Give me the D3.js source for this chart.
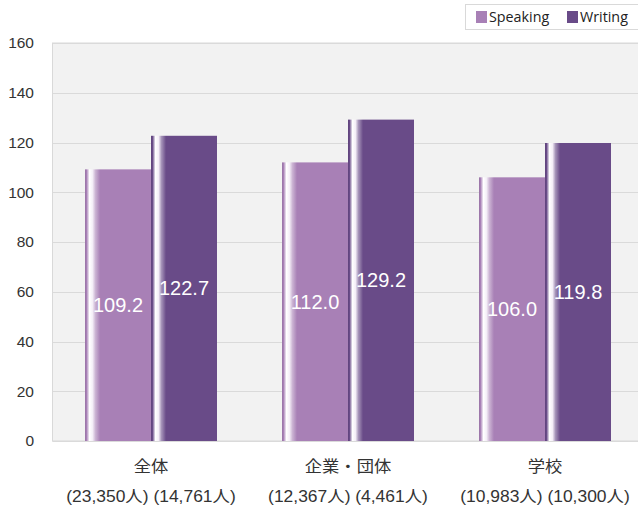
<!DOCTYPE html>
<html><head><meta charset="utf-8">
<script src="https://cdn.jsdelivr.net/npm/d3@7"></script>
<style>body{margin:0;background:#fff}svg{display:block}</style>
</head><body>
<script>
const categories = ["全体", "企業・団体", "学校"];
const subLabels = ["(23,350人) (14,761人)", "(12,367人) (4,461人)", "(10,983人) (10,300人)"];
const seriesNames = ["Speaking", "Writing"];
const speaking = [109.2, 112.0, 106.0];
const writing = [122.7, 129.2, 119.8];
const yTicks = [0, 20, 40, 60, 80, 100, 120, 140, 160];
const colors = ["#a880b6", "#694b88"];

const W = 638, H = 507;
const m = {left: 52.5, top: 43, right: 643.5, bottom: 441};
const svg = d3.select("body").append("svg").attr("width", W).attr("height", H);

const x = d3.scaleBand().domain(categories).range([m.left, m.right]).paddingInner(0).paddingOuter(0);
const xs = d3.scaleBand().domain(seriesNames).range([0, 132]);
const y = d3.scaleLinear().domain([0, 160]).range([m.bottom, m.top]);

const defs = svg.append("defs");
colors.forEach((c, i) => {
  const g = defs.append("linearGradient").attr("id", "g" + i).attr("x1", "0").attr("x2", "1").attr("y1", "0").attr("y2", "0");
  const w = 66;
  const stops = [[0, d3.color(c).darker(0.3)], [1.5/w, c], [4.5/w, "#ffffff"], [7.5/w, "#f4eef7"], [10.5/w, d3.interpolateRgb("#ffffff", c)(0.6)], [15/w, c], [1, c]];
  stops.forEach(s => g.append("stop").attr("offset", s[0]).attr("stop-color", s[1]));
});

svg.append("rect").attr("x", m.left).attr("y", m.top).attr("width", m.right - m.left).attr("height", m.bottom - m.top)
  .attr("fill", "#f2f2f2").attr("stroke", "#d9d9d9").attr("stroke-width", 1);

svg.append("g").selectAll("line").data(yTicks).join("line")
  .attr("x1", m.left).attr("x2", m.right)
  .attr("y1", d => Math.round(y(d)) + 0.5).attr("y2", d => Math.round(y(d)) + 0.5)
  .attr("stroke", "#dadada").attr("stroke-width", 1.2);

svg.append("g").selectAll("text").data(yTicks).join("text")
  .attr("x", 34).attr("y", d => y(d)).attr("dy", "0.35em").attr("text-anchor", "end")
  .attr("font-family", "Liberation Sans, Arial, sans-serif").attr("font-size", 15.5).attr("fill", "#333")
  .text(d => d);

const data = categories.map((c, i) => ({cat: c, vals: [speaking[i], writing[i]]}));
const off = (x.bandwidth() - 132) / 2;
const groups = svg.append("g").selectAll("g").data(data).join("g")
  .attr("transform", d => `translate(${x(d.cat) + off},0)`);

groups.selectAll("rect").data(d => d.vals.map((v, i) => ({v, i}))).join("rect")
  .attr("x", d => xs(seriesNames[d.i])).attr("width", xs.bandwidth())
  .attr("y", d => y(d.v)).attr("height", d => y(0) - y(d.v))
  .attr("fill", d => `url(#g${d.i})`);

groups.selectAll("text.v").data(d => d.vals.map((v, i) => ({v, i}))).join("text")
  .attr("class", "v")
  .attr("x", d => xs(seriesNames[d.i]) + xs.bandwidth() / 2)
  .attr("y", d => (y(d.v) + y(0)) / 2).attr("dy", "0.35em").attr("text-anchor", "middle")
  .attr("font-family", "Liberation Sans, Arial, sans-serif").attr("font-size", 20).attr("fill", "#fff")
  .text(d => d.v.toFixed(1));

const xl = svg.append("g");
xl.selectAll("text.c").data(categories).join("text").attr("class", "c")
  .attr("transform", d => `translate(${x(d) + x.bandwidth() / 2},472) scale(1.08,1)`).attr("text-anchor", "middle")
  .attr("font-family", "Noto Sans CJK JP, sans-serif").attr("font-size", 16).attr("fill", "#333")
  .text(d => d);
xl.selectAll("text.s").data(categories).join("text").attr("class", "s")
  .attr("transform", d => `translate(${x(d) + x.bandwidth() / 2},502) scale(1.09,1)`).attr("text-anchor", "middle")
  .attr("font-family", "Liberation Sans, Noto Sans CJK JP, sans-serif").attr("font-size", 16).attr("fill", "#333")
  .text((d, i) => subLabels[i]);

const lg = svg.append("g");
lg.append("rect").attr("x", 465.5).attr("y", 4.5).attr("width", 180).attr("height", 25)
  .attr("fill", "#fff").attr("stroke", "#d9d9d9");
const lx = [476, 567];
seriesNames.forEach((s, i) => {
  lg.append("rect").attr("x", lx[i]).attr("y", 11).attr("width", 11).attr("height", 12).attr("fill", colors[i]);
  lg.append("text").attr("x", lx[i] + 13).attr("y", 17).attr("dy", "0.35em")
    .attr("font-family", "Open Sans, sans-serif").attr("font-size", 14.3).attr("fill", "#222").text(s);
});
</script>
</body></html>
